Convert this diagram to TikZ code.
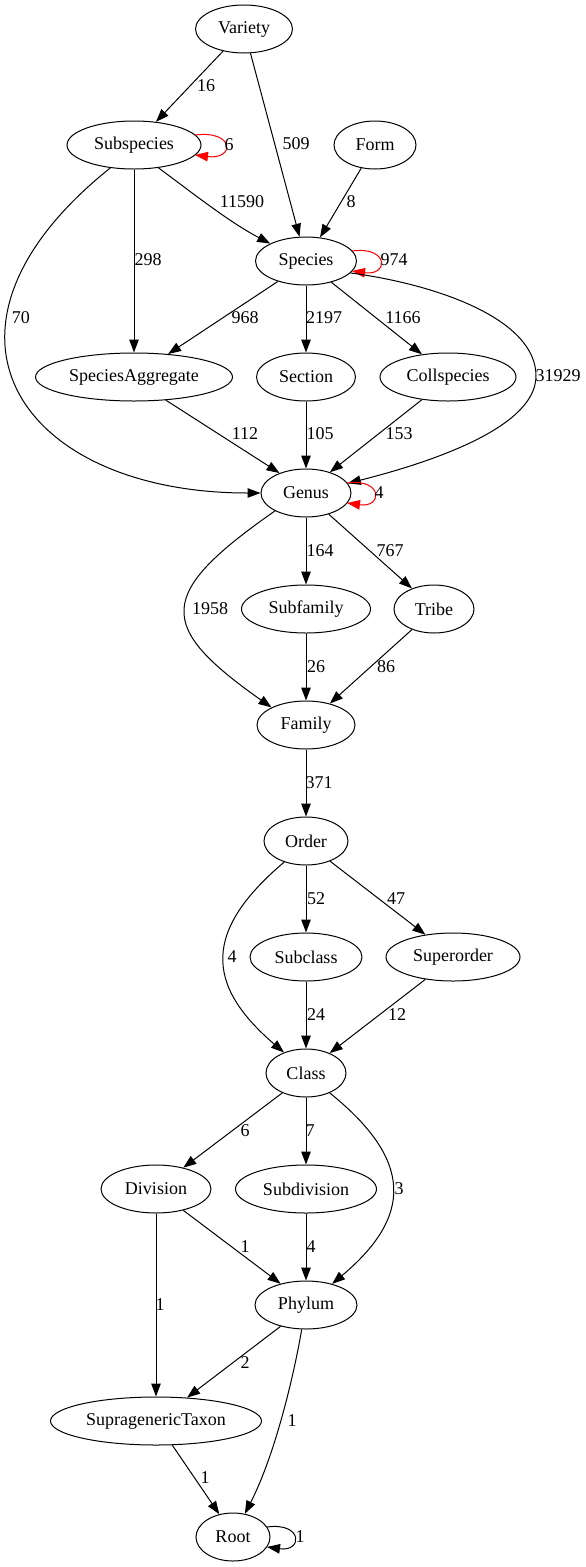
\documentclass[tikz,border=0pt]{standalone}
\usepackage{fontspec}
\setmainfont{Liberation Serif}
\usetikzlibrary{arrows.meta,calc,shapes.geometric}
\begin{document}
\begin{tikzpicture}[x=1pt,y=-1pt,
  every node/.style={font=\fontsize{18}{20}\selectfont},
  tx/.style={ellipse,draw,line width=1pt,minimum height=48pt,inner xsep=2pt,inner ysep=0pt},
  lbl/.style={inner sep=0pt},
  link/.style={line width=1pt,-{Triangle[length=13pt,width=9.5pt]}},
  loopred/.style={link,red},
]
\useasboundingbox (0,0) rectangle (586,1567);
% nodes
\node[tx,minimum width=97pt]  (var)  at (244,29)   {Variety};
\node[tx,minimum width=134pt] (sub)  at (134,145)  {Subspecies};
\node[tx,minimum width=82pt]  (form) at (375,145)  {Form};
\node[tx,minimum width=101pt] (spe)  at (306,261)  {Species};
\node[tx,minimum width=197pt] (agg)  at (134,377)  {SpeciesAggregate};
\node[tx,minimum width=99pt]  (sec)  at (306,377)  {Section};
\node[tx,minimum width=136pt] (col)  at (448,377)  {Collspecies};
\node[tx,minimum width=90pt]  (gen)  at (306,493)  {Genus};
\node[tx,minimum width=129pt] (subf) at (306,609)  {Subfamily};
\node[tx,minimum width=80pt]  (tri)  at (434,609)  {Tribe};
\node[tx,minimum width=98pt]  (fam)  at (306,725)  {Family};
\node[tx,minimum width=84pt]  (ord)  at (306,841)  {Order};
\node[tx,minimum width=112pt] (subc) at (306,957)  {Subclass};
\node[tx,minimum width=134pt] (supo) at (453,957)  {Superorder};
\node[tx,minimum width=80pt]  (cla)  at (306,1073) {Class};
\node[tx,minimum width=110pt] (div)  at (156,1189) {Division};
\node[tx,minimum width=141pt] (subd) at (306,1189) {Subdivision};
\node[tx,minimum width=102pt] (phy)  at (306,1305) {Phylum};
\node[tx,minimum width=211pt] (sup)  at (156,1421) {SupragenericTaxon};
\node[tx,minimum width=74pt]  (root) at (233,1537) {Root};
% edges
\draw[link] (var) -- (sub);
\draw[link] (var) -- (spe);
\draw[link] (form) -- (spe);
\draw[loopred] ($(sub.center)+(61,-10)$) .. controls +(40,-5) and +(40,5) .. ($(sub.center)+(61,10)$);
\draw[link] (sub.-43) .. controls (199,198) and (231,223) .. (spe.154);
\draw[link] (sub) -- (agg);
\draw[link] (sub.-136) .. controls (-92,330) and (20,493) .. (gen.west);
\draw[loopred] ($(spe.center)+(46,-10)$) .. controls +(37,-5) and +(37,5) .. ($(spe.center)+(46,10)$);
\draw[link] (spe.-144) -- (agg.34);
\draw[link] (spe) -- (sec);
\draw[link] (spe.-40) -- (col.139.6);
\draw[link] (spe.-15) .. controls (440,285) and (536,320) .. (536,376) .. controls (536,430) and (420,465) .. (gen.13);
\draw[link] (agg.-36) -- (gen.143.5);
\draw[link] (sec) -- (gen);
\draw[link] (col.-139.6) -- (gen.41.3);
\draw[loopred] ($(gen.center)+(41,-10)$) .. controls +(36,-5) and +(36,5) .. ($(gen.center)+(41,10)$);
\draw[link] (gen.-150) .. controls (156,594) and (156,626) .. (fam.153);
\draw[link] (gen) -- (subf);
\draw[link] (gen.-43.7) -- (tri.137.7);
\draw[link] (subf) -- (fam);
\draw[link] (tri.-137.7) -- (fam.42.5);
\draw[link] (fam) -- (ord);
\draw[link] (ord.-136) .. controls (204,930) and (204,984) .. (cla.137.6);
\draw[link] (ord) -- (subc);
\draw[link] (ord.-40) -- (supo.141.8);
\draw[link] (subc) -- (cla);
\draw[link] (supo.-141.8) -- (cla.40);
\draw[link] (cla.-140) -- (div.38);
\draw[link] (cla) -- (subd);
\draw[link] (cla.-40) .. controls (413,1160) and (413,1216) .. (phy.39.4);
\draw[link] (div.-38) -- (phy.140.8);
\draw[link] (subd) -- (phy);
\draw[link] (div) -- (sup);
\draw[link] (phy.-140.8) -- (sup.37.5);
\draw[link] (phy.-100) .. controls (294,1375) and (275,1455) .. (root.63);
\draw[link] (sup.-56) -- (root.121);
\draw[link] ($(root.center)+(34,-10)$) .. controls +(36,-5) and +(36,5) .. ($(root.center)+(34,10)$);
% labels
\node[lbl] (l1)  at (206,86)   {16};
\node[lbl] (l2)  at (296,144)  {509};
\node[lbl] (l3)  at (351,202)  {8};
\node[lbl] (l4)  at (229,145)  {6};
\node[lbl] (l5)  at (242,202)  {11590};
\node[lbl] (l6)  at (148,260)  {298};
\node[lbl] (l7)  at (21,318)   {70};
\node[lbl] (l8)  at (394,260)  {974};
\node[lbl] (l9)  at (245,318)  {968};
\node[lbl] (l10) at (324,318)  {2197};
\node[lbl] (l11) at (403,318)  {1166};
\node[lbl] (l12) at (558,376)  {31929};
\node[lbl] (l13) at (245,434)  {112};
\node[lbl] (l14) at (320,434)  {105};
\node[lbl] (l15) at (399,434)  {153};
\node[lbl] (l16) at (379,493)  {4};
\node[lbl] (l17) at (210,609)  {1958};
\node[lbl] (l18) at (320,551)  {164};
\node[lbl] (l19) at (390,551)  {767};
\node[lbl] (l20) at (316,667)  {26};
\node[lbl] (l21) at (386,667)  {86};
\node[lbl] (l22) at (319,783)  {371};
\node[lbl] (l23) at (232,957)  {4};
\node[lbl] (l24) at (316,899)  {52};
\node[lbl] (l25) at (396,899)  {47};
\node[lbl] (l26) at (316,1015) {24};
\node[lbl] (l27) at (397,1015) {12};
\node[lbl] (l28) at (245,1131) {6};
\node[lbl] (l29) at (310,1131) {7};
\node[lbl] (l30) at (399,1189) {3};
\node[lbl] (l31) at (245,1247) {1};
\node[lbl] (l32) at (311,1247) {4};
\node[lbl] (l33) at (160,1305) {1};
\node[lbl] (l34) at (245,1363) {2};
\node[lbl] (l35) at (292,1421) {1};
\node[lbl] (l36) at (205,1478) {1};
\node[lbl] (l37) at (300,1537) {1};
\end{tikzpicture}
\end{document}
